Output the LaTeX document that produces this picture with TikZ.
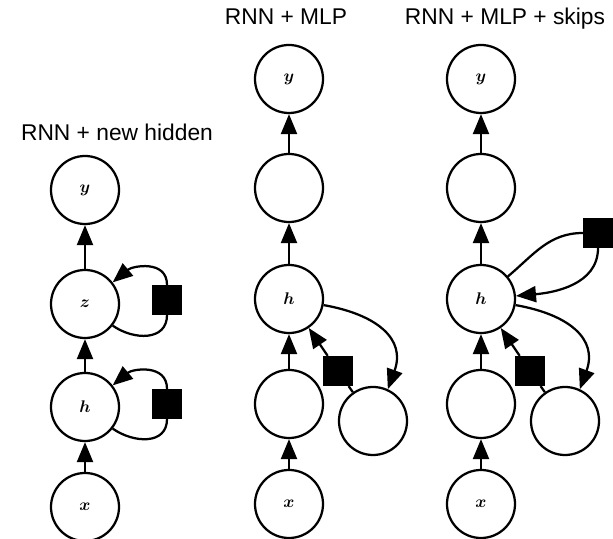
\documentclass[tikz,border=0pt]{standalone}
\usepackage{amsmath}
\usepackage{amssymb}
\usepackage{fontspec}
\setmainfont{Liberation Sans}
\usetikzlibrary{arrows.meta}

\begin{document}
\begin{tikzpicture}[x=0.025cm, y=0.025cm, line width=1.6pt, >={Triangle[length=0.5cm, width=0.4cm]},
    unit/.style={circle, draw, minimum size=1.7cm, inner sep=0pt, font=\fontsize{12}{14}\selectfont},
    gate/.style={rectangle, draw, fill=black, minimum size=0.7cm, inner sep=0pt},
    title/.style={inner sep=0pt, anchor=base, font=\fontsize{16.2}{19}\selectfont}]
        \useasboundingbox (0, 0) rectangle (613, 539);

        % RNN + new hidden
        \node[title] (t1) at (117, 398) {RNN + new hidden};
        \node[unit] (y1) at (85, 349) {$\boldsymbol{y}$};
        \node[unit] (z1) at (85, 235) {$\boldsymbol{z}$};
        \node[unit] (h1) at (85, 132) {$\boldsymbol{h}$};
        \node[unit] (x1) at (85, 32) {$\boldsymbol{x}$};
        \node[gate] (gz1) at (167, 239) {};
        \node[gate] (gh1) at (167, 135) {};

        \draw[->] (x1) -- (h1);
        \draw[->] (h1) -- (z1);
        \draw[->] (z1) -- (y1);
        \draw (z1.-38) to[out=-35, in=-90, looseness=1.2] (gz1.south);
        \draw[->] (gz1.north) to[out=90, in=40, looseness=1.2] (z1.38);
        \draw (h1.-38) to[out=-35, in=-90, looseness=1.2] (gh1.south);
        \draw[->] (gh1.north) to[out=90, in=40, looseness=1.2] (h1.38);

        % RNN + MLP
        \node[title] (t2) at (286, 514) {RNN + MLP};
        \node[unit] (y2) at (289, 460) {$\boldsymbol{y}$};
        \node[unit] (m2) at (289, 351) {};
        \node[unit] (h2) at (289, 240) {$\boldsymbol{h}$};
        \node[unit] (l2) at (289, 135) {};
        \node[unit] (x2) at (289, 35) {$\boldsymbol{x}$};
        \node[unit] (r2) at (373, 118) {};
        \node[gate] (g2) at (338, 168) {};

        \draw[->] (x2) -- (l2);
        \draw[->] (l2) -- (h2);
        \draw[->] (h2) -- (m2);
        \draw[->] (m2) -- (y2);
        \draw[->] (h2.-10) to[out=-10, in=70, looseness=1.3] (r2.65);
        \draw (r2) -- (g2);
        \draw[->] (g2) -- (h2);

        % RNN + MLP + skips
        \node[title] (t3) at (505, 514) {RNN + MLP + skips};
        \node[unit] (y3) at (481, 460) {$\boldsymbol{y}$};
        \node[unit] (m3) at (481, 351) {};
        \node[unit] (h3) at (481, 240) {$\boldsymbol{h}$};
        \node[unit] (l3) at (481, 135) {};
        \node[unit] (x3) at (481, 35) {$\boldsymbol{x}$};
        \node[unit] (r3) at (565, 118) {};
        \node[gate] (g3) at (530, 168) {};
        \node[gate] (k3) at (598, 306) {};

        \draw[->] (x3) -- (l3);
        \draw[->] (l3) -- (h3);
        \draw[->] (h3) -- (m3);
        \draw[->] (m3) -- (y3);
        \draw[->] (h3.-10) to[out=-10, in=70, looseness=1.3] (r3.65);
        \draw (r3) -- (g3);
        \draw[->] (g3) -- (h3);
        \draw (h3.40) to[out=40, in=180] (k3.west);
        \draw[->] (k3.south) to[out=-90, in=5] (h3.5);
      \end{tikzpicture}
\end{document}
